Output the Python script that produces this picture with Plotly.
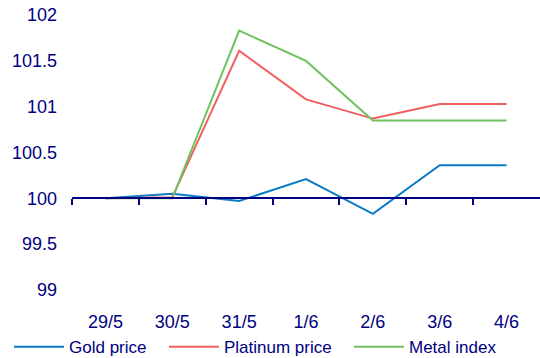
import plotly.graph_objects as go

# Daily index values (base = 100)
dates = ["29/5", "30/5", "31/5", "1/6", "2/6", "3/6", "4/6"]
gold_price = [100.0, 100.05, 99.97, 100.21, 99.83, 100.36, 100.36]
platinum_price = [100.0, 100.01, 101.61, 101.08, 100.87, 101.03, 101.03]
metal_index = [100.0, 100.0, 101.83, 101.50, 100.85, 100.85, 100.85]

y_ticks = [99, 99.5, 100, 100.5, 101, 101.5, 102]
y_tick_text = ["99", "99.5", "100", "100.5", "101", "101.5", "102"]

NAVY = "#000080"
Y_MIN, Y_MAX = 98.835, 102.11
BASE = 100

fig = go.Figure()
fig.add_trace(go.Scatter(x=dates, y=gold_price, name="Gold price", mode="lines",
                         line=dict(color="#0A7CC4", width=2), legend="legend"))
fig.add_trace(go.Scatter(x=dates, y=platinum_price, name="Platinum price", mode="lines",
                         line=dict(color="#F0605F", width=2), legend="legend2"))
fig.add_trace(go.Scatter(x=dates, y=metal_index, name="Metal index", mode="lines",
                         line=dict(color="#70C060", width=2), legend="legend3"))


def legend_box(left_px):
    return dict(orientation="h", xref="container", x=left_px / 540, xanchor="left",
                yref="container", y=0.03, yanchor="middle",
                font=dict(size=17, color=NAVY), itemwidth=50,
                bgcolor="rgba(0,0,0,0)")


n = len(dates)
fig.update_layout(
    width=540, height=358,
    margin=dict(l=72, r=0, t=5, b=53, autoexpand=False),
    paper_bgcolor="white", plot_bgcolor="white",
    font=dict(family="Liberation Sans, Arial, sans-serif", size=18, color=NAVY),
    showlegend=True,
    legend=legend_box(9),
    legend2=legend_box(164),
    legend3=legend_box(349),
    xaxis=dict(type="category", categoryorder="array", categoryarray=dates,
               range=[-0.5, n - 0.5], showline=False, showgrid=False, zeroline=False,
               ticks="", ticklabelstandoff=4, tickfont=dict(size=18, color=NAVY)),
    # Baseline axis drawn through the 100 level, with ticks on category boundaries
    xaxis2=dict(overlaying="x", anchor="free",
                position=(BASE - Y_MIN) / (Y_MAX - Y_MIN),
                range=[-0.5, n - 0.5], showline=True, linecolor=NAVY, linewidth=2,
                ticks="outside", ticklen=6, tickwidth=2, tickcolor=NAVY,
                tickvals=[i - 0.5 for i in range(n)], showticklabels=False,
                showgrid=False, zeroline=False),
    yaxis=dict(range=[Y_MIN, Y_MAX], tickvals=y_ticks, ticktext=y_tick_text,
               showgrid=False, zeroline=False, showline=False, ticks="",
               ticklabelstandoff=14, tickfont=dict(size=18, color=NAVY)),
)
# invisible trace that activates the baseline axis
fig.add_trace(go.Scatter(x=[None], y=[None], xaxis="x2", showlegend=False, hoverinfo="skip"))

fig.write_html("out.html")
